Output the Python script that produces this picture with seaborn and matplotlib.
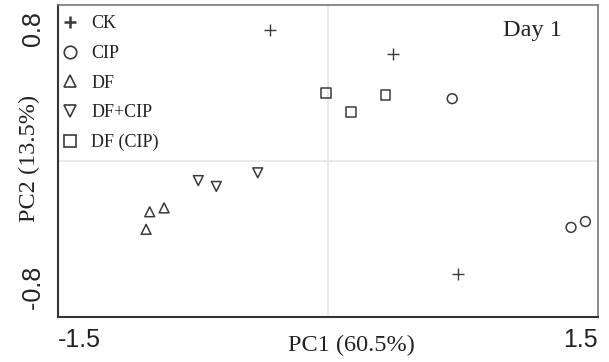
import numpy as np
import matplotlib
matplotlib.use('Agg')
import matplotlib.pyplot as plt
import seaborn as sns
from matplotlib.lines import Line2D

# PCA scores
groups = ['CK', 'CIP', 'DF', 'DF+CIP', 'DF (CIP)']
ck_x = [-0.32, 0.36, 0.72]
ck_y = [0.67, 0.55, -0.58]
cip_x = [0.69, 1.35, 1.43]
cip_y = [0.32, -0.34, -0.31]
df_x = [-0.99, -0.91, -1.01]
df_y = [-0.26, -0.24, -0.35]
dfcip_x = [-0.72, -0.62, -0.39]
dfcip_y = [-0.10, -0.13, -0.06]
dfpcip_x = [-0.01, 0.13, 0.32]
dfpcip_y = [0.35, 0.25, 0.34]

xs = [ck_x, cip_x, df_x, dfcip_x, dfpcip_x]
ys = [ck_y, cip_y, df_y, dfcip_y, dfpcip_y]
markers = ['+', 'o', '^', 'v', 's']

x_ticks = [-1.5, -1.0, -0.5, 0.0, 0.5, 1.0, 1.5]
x_labels = ['-1.5', '', '', '', '', '', '1.5']
y_ticks = [-0.8, -0.6, -0.4, -0.2, 0.0, 0.2, 0.4, 0.6, 0.8]
# the padding spaces keep the end labels a bit inside the axis ends
y_labels = [' -0.8', '', '', '', '', '', '', '', '0.8 ']

sns.set_style('white')
serif = ['Liberation Serif', 'DejaVu Serif']
sans = ['Liberation Sans', 'DejaVu Sans']
plt.rcParams['font.family'] = serif

mk_color = '#3a3a3a'
txt_color = '#222222'
fig, ax = plt.subplots(figsize=(6.09, 3.62), dpi=100)
fig.subplots_adjust(left=0.095, right=0.982, top=0.986, bottom=0.124)

ax.axhline(0, color='#e6e6e6', lw=1.2, zorder=0)
ax.axvline(0, color='#e6e6e6', lw=1.2, zorder=0)

for g, x, y, m in zip(groups, xs, ys, markers):
    if m == '+':
        sns.scatterplot(x=x, y=y, marker=m, s=80, color=mk_color, linewidth=1.0, ax=ax)
    else:
        sns.scatterplot(x=x, y=y, marker=m, s=50, facecolors='none',
                        edgecolor=mk_color, linewidth=1.1, ax=ax)

ax.set_xlim(-1.5, 1.5)
ax.set_ylim(-0.8, 0.8)
ax.set_xticks(x_ticks)
ax.set_xticklabels(x_labels, fontsize=18, family=sans, color=txt_color)
ax.set_yticks(y_ticks)
ax.set_yticklabels(y_labels, fontsize=18, family=sans, color=txt_color, rotation=90)
xl = ax.get_xticklabels()
xl[0].set_ha('left')
xl[-1].set_ha('right')
yl = ax.get_yticklabels()
yl[0].set_va('bottom')
yl[-1].set_va('top')
ax.tick_params(direction='inout', length=5, width=1, color='#333333')
ax.tick_params(axis='x', pad=5)
ax.tick_params(axis='y', pad=6)

ax.set_xlabel('PC1 (60.5%)', fontsize=17.5, color=txt_color)
ax.xaxis.set_label_coords(0.543, -0.058)
ax.set_ylabel('PC2 (13.5%)', fontsize=17.5, color=txt_color)
ax.yaxis.set_label_coords(-0.033, 0.51)

for side in ['left', 'bottom']:
    ax.spines[side].set_color('#333333')
    ax.spines[side].set_linewidth(1.5)
for side in ['top', 'right']:
    ax.spines[side].set_color('#777777')
    ax.spines[side].set_linewidth(1.2)

ax.text(0.933, 0.92, 'Day 1', transform=ax.transAxes, ha='right', va='center',
        fontsize=17.5, color=txt_color)

handles = []
for g, m in zip(groups, markers):
    if m == '+':
        h = Line2D([], [], marker=m, ls='none', color=mk_color, markersize=8, mew=1.8)
    else:
        h = Line2D([], [], marker=m, ls='none', markerfacecolor='none',
                   markeredgecolor=mk_color, markersize=9, mew=1.2)
    handles.append(h)
ax.legend(handles, groups, loc='upper left', frameon=False, fontsize=13,
          handletextpad=0.7, labelspacing=0.7, borderaxespad=0.0,
          handlelength=1.0, bbox_to_anchor=(-0.008, 0.99), labelcolor=txt_color)

fig.savefig('out.png', dpi=100)
